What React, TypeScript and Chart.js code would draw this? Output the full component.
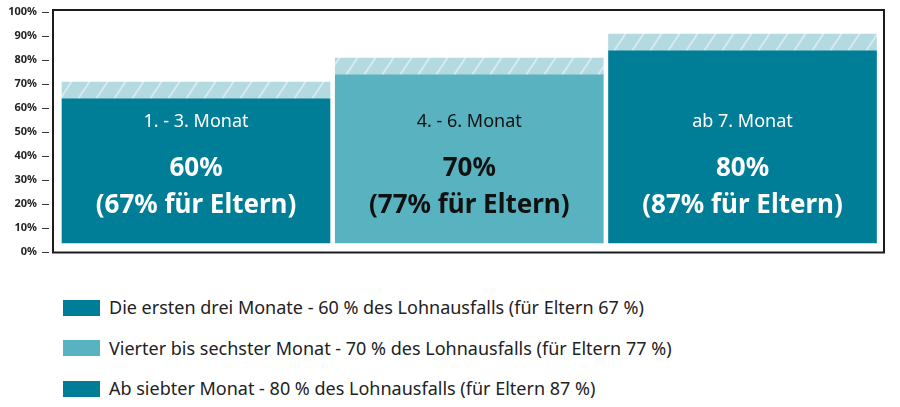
import React, { useEffect, useRef } from "react";
import { Chart, registerables } from "chart.js";

Chart.register(...registerables);

const periods = ["1. - 3. Monat", "4. - 6. Monat", "ab 7. Monat"];
const rates = [60, 70, 80];
const parentRates = [67, 77, 87];
const baseOffset = 3.8;
const yTicks = [0, 10, 20, 30, 40, 50, 60, 70, 80, 90, 100];
const legendLabels = [
  "Die ersten drei Monate - 60 % des Lohnausfalls (für Eltern 67 %)",
  "Vierter bis sechster Monat - 70 % des Lohnausfalls (für Eltern 77 %)",
  "Ab siebter Monat - 80 % des Lohnausfalls (für Eltern 87 %)",
];

const DARK = "#007E98";
const LIGHT = "#58B2BF";
const barColors = [DARK, LIGHT, DARK];
const labelColors = ["#ffffff", "#111111", "#ffffff"];
const FONT = "'Noto Sans', sans-serif";

function makeHatch(): CanvasPattern | string {
  const c = document.createElement("canvas");
  c.width = 18;
  c.height = 27;
  const g = c.getContext("2d");
  if (!g) return "#B3D9E1";
  g.fillStyle = "#B3D9E1";
  g.fillRect(0, 0, 18, 27);
  g.strokeStyle = "#D5EBF0";
  g.lineWidth = 2;
  for (const dx of [-18, 0, 18]) {
    g.beginPath();
    g.moveTo(dx, 27);
    g.lineTo(dx + 18, 0);
    g.stroke();
  }
  return g.createPattern(c, "repeat") || "#B3D9E1";
}

const framePlugin = {
  id: "frame",
  afterDraw(chart: any) {
    const { ctx, chartArea } = chart;
    const { left, right, top, bottom } = chartArea;
    const y = chart.scales.y;
    ctx.save();
    ctx.strokeStyle = "#1c1c1c";
    ctx.lineWidth = 2;
    ctx.strokeRect(left, top - 2, right - left, bottom - top + 2.5);
    ctx.strokeStyle = "#333";
    ctx.lineWidth = 1;
    for (const v of yTicks) {
      const py = Math.round(y.getPixelForValue(v)) + 0.5;
      ctx.beginPath();
      ctx.moveTo(left - 11, py);
      ctx.lineTo(left - 4, py);
      ctx.stroke();
    }
    ctx.restore();
  },
};

const labelPlugin = {
  id: "barLabels",
  afterDatasetsDraw(chart: any) {
    const { ctx, chartArea } = chart;
    const meta = chart.getDatasetMeta(0);
    ctx.save();
    ctx.textAlign = "center";
    ctx.textBaseline = "alphabetic";
    meta.data.forEach((el: any, i: number) => {
      ctx.fillStyle = labelColors[i];
      ctx.font = `400 18px ${FONT}`;
      ctx.fillText(periods[i], el.x, chartArea.top + 115);
      ctx.font = `700 26px ${FONT}`;
      ctx.fillText(`${rates[i]}%`, el.x, chartArea.top + 164);
      ctx.fillText(`(${parentRates[i]}% für Eltern)`, el.x, chartArea.top + 201);
    });
    ctx.restore();
  },
};

export default function App() {
  const ref = useRef<HTMLCanvasElement | null>(null);

  useEffect(() => {
    if (!ref.current) return;
    const hatch = makeHatch();
    const chart = new Chart(ref.current, {
      type: "bar",
      data: {
        datasets: [
          {
            label: "Lohnersatzrate",
            data: rates.map((r, i) => ({ x: i, y: [baseOffset, baseOffset + r] })) as any,
            backgroundColor: barColors,
            borderWidth: 0,
            grouped: false,
            barThickness: 268,
          } as any,
          {
            label: "für Eltern",
            data: parentRates.map((p, i) => ({
              x: i,
              y: [baseOffset + rates[i], baseOffset + p],
            })) as any,
            backgroundColor: hatch as any,
            borderWidth: 0,
            grouped: false,
            barThickness: 268,
          } as any,
        ],
      },
      options: {
        animation: false,
        responsive: false,
        layout: { padding: { top: 12, bottom: 18, right: 16, left: 0 } },
        plugins: {
          legend: { display: false },
          tooltip: { enabled: false },
        },
        scales: {
          x: {
            type: "linear",
            offset: false,
            min: -0.5233,
            max: 2.5178,
            display: false,
          },
          y: {
            min: 0,
            max: 100,
            afterFit: (s: any) => {
              s.width = 53;
              s.paddingTop = 0;
              s.paddingBottom = 0;
            },
            afterBuildTicks: (s: any) => {
              s.ticks = yTicks.map((v) => ({ value: v }));
            },
            grid: { display: false, drawTicks: false },
            border: { display: false },
            ticks: {
              padding: 16,
              color: "#222",
              font: { family: FONT, weight: "bold", size: 11 },
              callback: (v: any) => `${v}%`,
            },
          },
        },
      } as any,
      plugins: [framePlugin, labelPlugin],
    });
    return () => chart.destroy();
  }, []);

  return (
    <div
      style={{
        position: "fixed",
        left: 0,
        top: 0,
        width: 900,
        height: 407,
        background: "#fff",
        fontFamily: FONT,
      }}
    >
      <canvas
        ref={ref}
        width={900}
        height={270}
        style={{ position: "absolute", left: 0, top: 0, width: 900, height: 270 }}
      />
      {legendLabels.map((txt, i) => (
        <div
          key={i}
          style={{
            position: "absolute",
            left: 63,
            top: 299 + i * 40.5,
            height: 17,
            display: "flex",
            alignItems: "center",
            whiteSpace: "nowrap",
          }}
        >
          <span
            style={{
              display: "inline-block",
              width: 37,
              height: 16,
              background: barColors[i],
              marginRight: 9,
            }}
          />
          <span style={{ fontSize: 18, lineHeight: "17px", color: "#222" }}>{txt}</span>
        </div>
      ))}
    </div>
  );
}
